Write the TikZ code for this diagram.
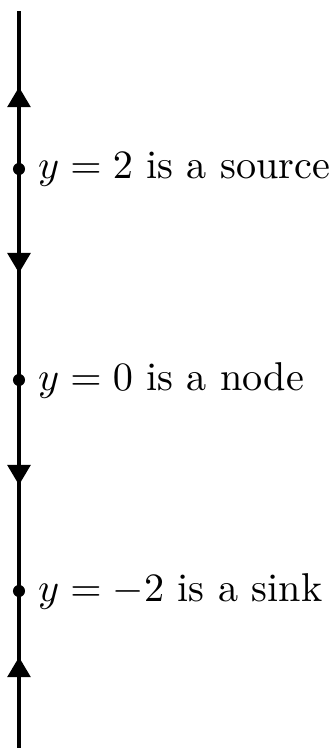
\documentclass[tikz,border=0pt]{standalone}
\usepackage{amsmath,amssymb}
\usepackage{tikz}
\usetikzlibrary{arrows.meta}

\begin{document}
\begin{tikzpicture}[>={Triangle[width=5.7pt,length=5pt]}, thick, x=26.22pt, y=26.22pt]
    % 固定画布大小
    \useasboundingbox (0, -3.488) rectangle (3.1274, 3.602);

    % 定义竖线端点与三个平衡点
    \coordinate (top) at (0.18, 3.5);
    \coordinate (bot) at (0.18, -3.52);
    \coordinate (src) at (0.18, 2);
    \coordinate (nd) at (0.18, 0);
    \coordinate (snk) at (0.18, -2);

    % 绘制相线
    \draw (bot) -- (top);

    % 定义方向箭头的起止点
    \coordinate (a1s) at (0.18, 2.586);
    \coordinate (a1e) at (0.18, 2.777);
    \coordinate (a2s) at (0.18, 1.205);
    \coordinate (a2e) at (0.18, 1.014);
    \coordinate (a3s) at (0.18, -0.804);
    \coordinate (a3e) at (0.18, -0.995);
    \coordinate (a4s) at (0.18, -2.817);
    \coordinate (a4e) at (0.18, -2.626);

    % 绘制方向箭头
    \draw[->] (a1s) -- (a1e);
    \draw[->] (a2s) -- (a2e);
    \draw[->] (a3s) -- (a3e);
    \draw[->] (a4s) -- (a4e);

    % 绘制平衡点及其说明
    \fill (src) circle (1.5pt) node[right=1pt] (srclab) {$y=2$ is a source};
    \fill (nd) circle (1.5pt) node[right=1pt] (ndlab) {$y=0$ is a node};
    \fill (snk) circle (1.5pt) node[right=1pt] (snklab) {$y=-2$ is a sink};
\end{tikzpicture}
\end{document}
